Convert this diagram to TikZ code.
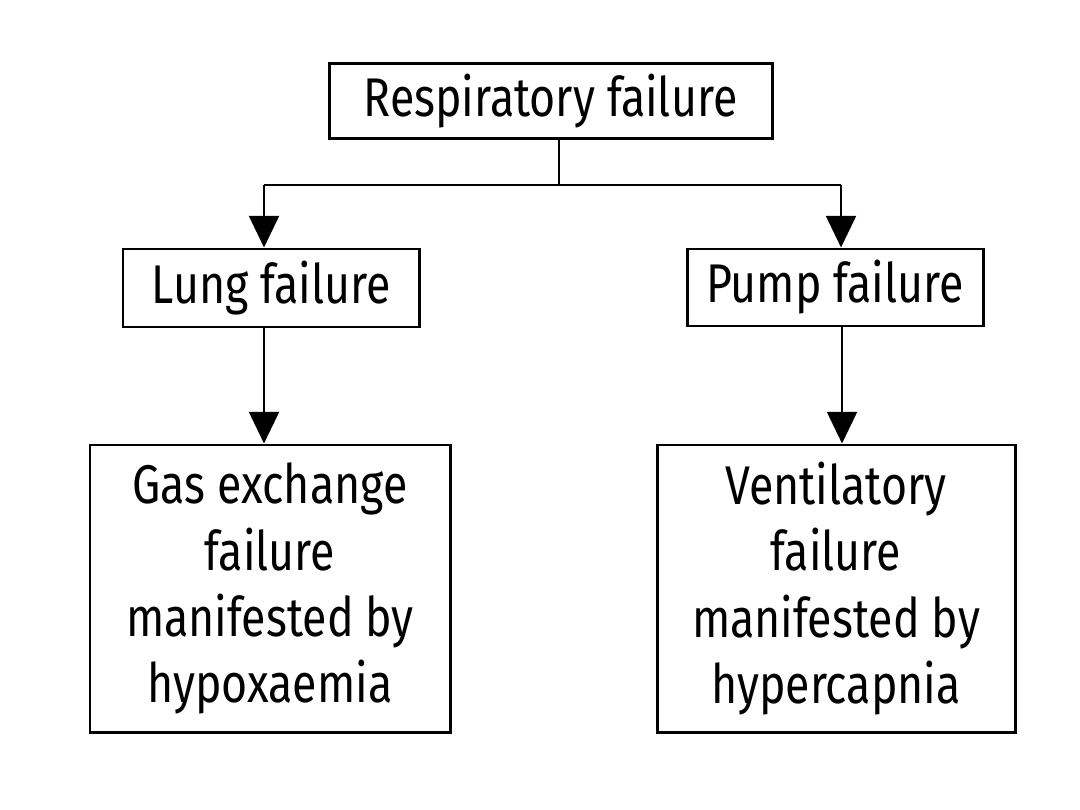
\documentclass[tikz,border=0pt]{standalone}
\usepackage{fontspec}
\setmainfont{Fira Sans}[FakeStretch=0.82]
\usetikzlibrary{arrows.meta}
\begin{document}
\begin{tikzpicture}[x=0.01cm,y=-0.01cm,
  box/.style={draw=black,line width=0.85pt,rectangle,inner sep=0pt,
    font=\fontsize{15.5pt}{18.8pt}\selectfont,align=center},
  link/.style={line width=0.7pt,draw=black},
  arr/.style={link,-{Triangle[width=8.5pt,length=9pt]}}]
\useasboundingbox (0,0) rectangle (1080,810);
\fill[white] (0,0) rectangle (1080,810);
\node[box,minimum width=443*0.01cm,minimum height=75*0.01cm] (top) at (550.5,101.5) {Respiratory failure};
\node[box,minimum width=296*0.01cm,minimum height=78*0.01cm] (lung) at (271,288) {Lung failure};
\node[box,minimum width=296*0.01cm,minimum height=77*0.01cm] (pump) at (835,287.5) {Pump failure};
\node[box,minimum width=360*0.01cm,minimum height=287*0.01cm] (gas) at (270,588.5) {Gas exchange\\failure\\manifested by\\hypoxaemia};
\node[box,minimum width=358*0.01cm,minimum height=287*0.01cm] (vent) at (836,588.5) {Ventilatory\\failure\\manifested by\\hypercapnia};
\coordinate (split) at (559,185);
\coordinate (lturn) at (264,185);
\coordinate (rturn) at (841,185);
\draw[link] (top.south -| split) -- (split);
\draw[link] (lturn) -- (rturn);
\draw[arr] (lturn) -- (lturn |- lung.north);
\draw[arr] (rturn) -- (rturn |- pump.north);
\draw[arr] (lung.south -| lturn) -- (lturn |- gas.north);
\draw[arr] ([xshift=0.01cm]pump.south -| rturn) -- ([xshift=0.01cm]rturn |- vent.north);
\end{tikzpicture}
\end{document}
